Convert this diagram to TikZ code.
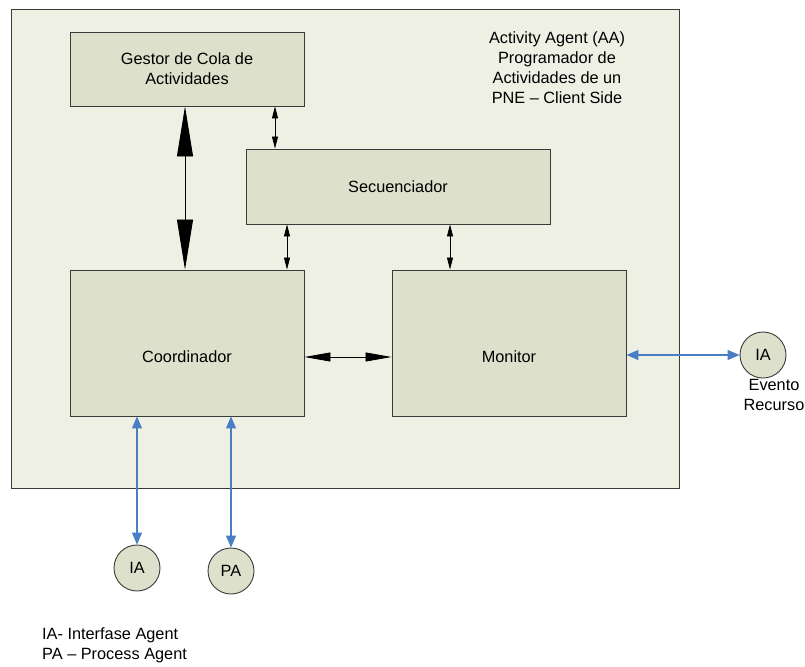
\documentclass[tikz,border=0pt]{standalone}
\usepackage{fontspec}
\setmainfont{Liberation Sans}
\usetikzlibrary{arrows.meta}
\definecolor{panel}{HTML}{EFF0E4}
\definecolor{boxfill}{HTML}{DDE0CB}
\definecolor{edge}{HTML}{3A3A3A}
\definecolor{link}{HTML}{4A7EC4}
\tikzset{
  block/.style={draw=edge, line width=0.9pt, fill=boxfill, inner sep=0pt, font=\fontsize{16.3}{20}\selectfont, align=center},
  agent/.style={circle, draw=edge, line width=0.9pt, fill=boxfill, minimum size=46pt, inner sep=0pt, font=\fontsize{16.3}{20}\selectfont},
  lbl/.style={font=\fontsize{16.3}{20}\selectfont, align=center, inner sep=0pt},
  bigarrow/.style={line width=0.8pt, {Triangle[length=50pt,width=16pt]}-{Triangle[length=50pt,width=16pt]}},
  midarrow/.style={line width=0.8pt, {Triangle[length=26pt,width=9pt]}-{Triangle[length=26pt,width=9pt]}},
  smallarrow/.style={line width=0.8pt, {Triangle[length=12pt,width=6pt]}-{Triangle[length=12pt,width=6pt]}},
  bluearrow/.style={draw=link, line width=1.2pt, {Triangle[length=12pt,width=10pt]}-{Triangle[length=12pt,width=10pt]}}
}
\begin{document}
\begin{tikzpicture}[x=1pt,y=-1pt]
\useasboundingbox (0,0) rectangle (805,666);
\fill[white] (0,0) rectangle (805,666);
% enclosing agent panel
\draw[edge, line width=0.9pt, fill=panel] (11,9) rectangle (679,488);
\node[lbl] (title) at (557,68) {Activity Agent (AA)\\Programador de\\Actividades de un\\PNE -- Client Side};
% components
\node[block, minimum width=234pt, minimum height=74pt] (gestor) at (187,69) {Gestor de Cola de\\Actividades};
\node[block, minimum width=304pt, minimum height=75pt] (sec) at (398,186.5) {Secuenciador};
\node[block, minimum width=234pt, minimum height=146pt] (coord) at (187,343) {};
\node[block, minimum width=234pt, minimum height=146pt] (mon) at (509,343) {};
\node[lbl] (coordtxt) at (187,357) {Coordinador};
\node[lbl] (montxt) at (509,357) {Monitor};
% external agents
\node[agent] (iaR) at (763,355) {IA};
\node[agent] (ia) at (137,568) {IA};
\node[agent] (pa) at (231,571) {PA};
\node[lbl, anchor=north] (evento) at (774,379) {Evento\\Recurso};
\node[lbl, anchor=north west, align=left] (legend) at (42,627) {IA- Interfase Agent\\PA -- Process Agent};
% internal connectors
\coordinate (g1) at (gestor.south -| 185,0);
\coordinate (c1) at (coord.north -| 185,0);
\draw[bigarrow] (g1) -- (c1);
\draw[smallarrow] (gestor.south -| 275,0) -- (sec.north -| 275,0);
\draw[smallarrow] (sec.south -| 287,0) -- (coord.north -| 287,0);
\draw[smallarrow] (sec.south -| 450,0) -- (mon.north -| 450,0);
\draw[midarrow] (coord.east |- 0,357) -- (mon.west |- 0,357);
% external connectors
\draw[bluearrow] (mon.east |- iaR) -- (iaR.west);
\draw[bluearrow] (coord.south -| ia) -- (ia.north);
\draw[bluearrow] (coord.south -| pa) -- (pa.north);
\end{tikzpicture}
\end{document}
